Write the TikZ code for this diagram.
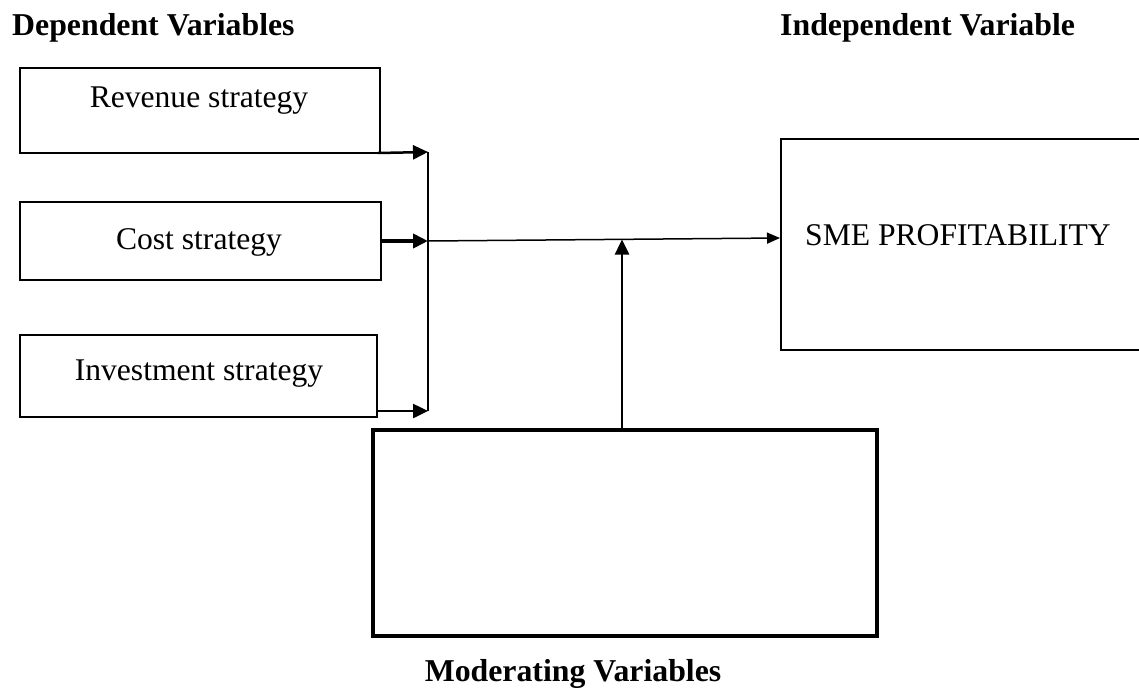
\documentclass[tikz,border=0pt]{standalone}
\usepackage{fontspec}
\setmainfont{Liberation Serif}
\usetikzlibrary{arrows.meta}
\begin{document}
\begin{tikzpicture}[x=1pt,y=-1pt,
  box/.style={draw,line width=2pt,rectangle,inner sep=0pt},
  lbl/.style={font=\fontsize{31.6}{36}\selectfont,inner sep=0pt,anchor=base},
  head/.style={font=\fontsize{31.8}{36}\selectfont\bfseries,inner sep=0pt,anchor=base west},
  tip/.style={-{Triangle[length=15pt,width=14pt]}}]
\useasboundingbox (0,0) rectangle (1139,688);
\node[box,minimum width=360pt,minimum height=85pt] (rev) at (200,110.5) {};
\node[box,minimum width=361pt,minimum height=78pt] (cost) at (200.5,241) {};
\node[box,minimum width=357pt,minimum height=82pt] (inv) at (198.5,376) {};
\node[box,minimum width=380pt,minimum height=211pt] (sme) at (971,244.5) {};
\node[box,line width=4pt,minimum width=504pt,minimum height=206pt] (mod) at (625,533) {};
\node[lbl] (revt) at (199,107) {Revenue strategy};
\node[lbl] (costt) at (199,249) {Cost strategy};
\node[lbl] (invt) at (199,380) {Investment strategy};
\node[lbl,anchor=base west] (smet) at (805,245) {SME PROFITABILITY};
\node[head] (dep) at (12,35) {Dependent Variables};
\node[head] (ind) at (780,35) {Independent Variable};
\node[head,anchor=base] (modt) at (573,681) {Moderating Variables};
\coordinate (j1) at (428,152);
\coordinate (j2) at (428,241);
\coordinate (j3) at (428,411);
\coordinate (m) at (622,239.5);
\draw[line width=2pt] (j1) -- (j3);
\draw[tip,line width=2.5pt] (378,153) -- (j1);
\draw[tip,line width=4pt] (cost.east) -- (j2);
\draw[tip,line width=2.5pt] (376,411) -- (j3);
\draw[line width=1.5pt,-{Triangle[length=13pt,width=11pt]}] (j2) -- (sme.west |- 0,238);
\draw[line width=2.5pt,-{Triangle[length=15pt,width=14pt]}] (mod.north -| m) -- (m);
\end{tikzpicture}
\end{document}
